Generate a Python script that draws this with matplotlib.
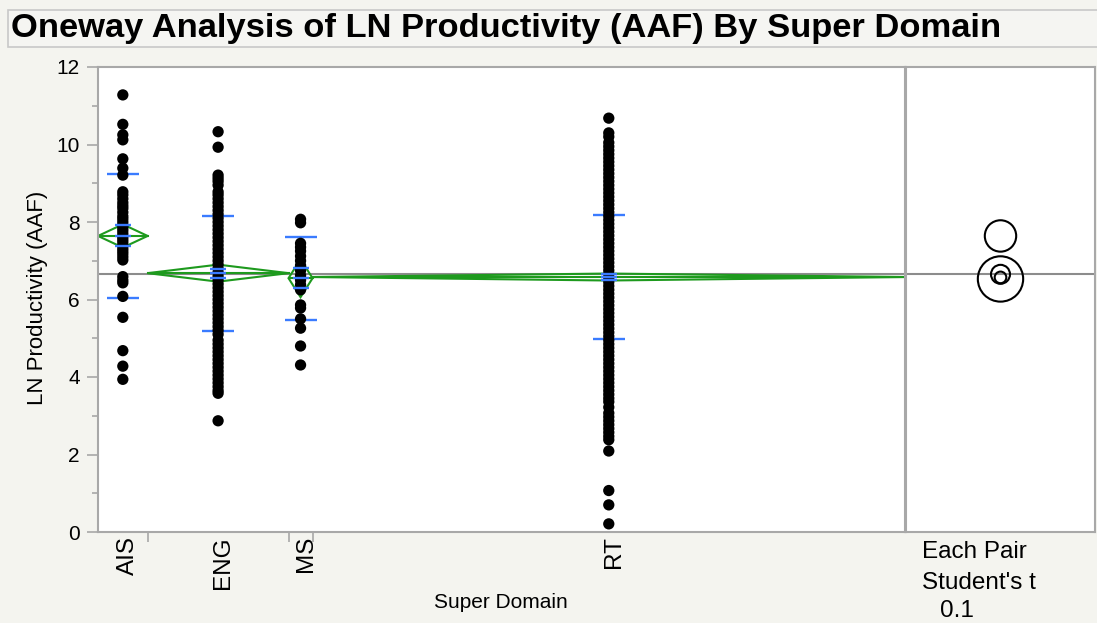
import matplotlib
matplotlib.use('Agg')
import matplotlib.pyplot as plt
import matplotlib.transforms as mtransforms
import numpy as np
from matplotlib.patches import Polygon, Circle, Rectangle

plt.rcParams['font.family'] = ['Liberation Sans', 'DejaVu Sans']

# ---------------- data ----------------
groups = ['AIS', 'ENG', 'MS', 'RT']
group_n = [31, 88, 15, 370]          # estimated group sizes (JMP widths ~ n)

ais_values = [11.28, 10.52, 10.25, 10.12, 9.63, 9.39, 9.21, 8.78, 8.70, 8.60,
              8.50, 8.42, 8.35, 8.25, 8.15, 8.08, 8.00, 7.92, 7.85, 7.78, 7.70,
              7.62, 7.55, 7.48, 7.40, 7.32, 7.25, 7.18, 7.10, 7.02, 6.59, 6.50,
              6.43, 6.08, 5.54, 4.68, 4.28, 3.94]
eng_values = [10.33, 9.93, 9.21, 9.13, 9.05, 8.95, 8.78, 8.70, 8.60, 8.50, 8.40,
              8.30, 8.20, 8.10, 8.00, 7.90, 7.80, 7.70, 7.60, 7.50, 7.40, 7.30,
              7.20, 7.10, 7.00, 6.90, 6.80, 6.70, 6.60, 6.50, 6.40, 6.30, 6.20,
              6.10, 6.00, 5.90, 5.80, 5.70, 5.60, 5.50, 5.40, 5.30, 5.20, 5.10,
              4.95, 4.85, 4.75, 4.65, 4.55, 4.45, 4.35, 4.25, 4.15, 4.05, 3.95,
              3.85, 3.75, 3.65, 3.58, 2.87]
ms_values = [8.07, 7.98, 7.45, 7.35, 7.25, 7.12, 7.00, 6.88, 6.75, 6.62, 6.50,
             6.38, 6.25, 5.86, 5.78, 5.50, 5.26, 4.80, 4.31]
rt_values = [10.68, 10.30, 10.20, 10.05, 9.95, 9.85, 9.75, 9.65, 9.55, 9.45,
             9.35, 9.25, 9.15, 9.05, 8.95, 8.85, 8.75, 8.65, 8.55, 8.45, 8.35,
             8.25, 8.15, 8.05, 7.95, 7.85, 7.75, 7.65, 7.55, 7.45, 7.35, 7.25,
             7.15, 7.05, 6.95, 6.85, 6.75, 6.65, 6.55, 6.45, 6.35, 6.25, 6.15,
             6.05, 5.95, 5.85, 5.75, 5.65, 5.55, 5.45, 5.35, 5.25, 5.15, 5.05,
             4.95, 4.85, 4.75, 4.65, 4.55, 4.45, 4.35, 4.25, 4.15, 4.05, 3.95,
             3.85, 3.75, 3.65, 3.55, 3.45, 3.36, 3.22, 3.07, 2.97, 2.87, 2.77,
             2.67, 2.57, 2.47, 2.38, 2.09, 1.07, 0.70, 0.21]

group_means = [7.64, 6.68, 6.55, 6.58]
ci95_half = [0.30, 0.22, 0.49, 0.09]     # diamond half heights
se_half = [0.27, 0.12, 0.26, 0.08]       # mean error bar marks
sd_values = [1.60, 1.48, 1.07, 1.60]     # std dev lines
circle_centers = [7.64, 6.65, 6.53, 6.57]
circle_radii = [0.405, 0.245, 0.585, 0.15]
grand_mean = 6.65

y_ticks = [0, 2, 4, 6, 8, 10, 12]

# ---------------- styling ----------------
W, H = 1097, 623
BG = '#f4f4ef'
GREEN = '#1e9a1e'
BLUE = '#3a7bff'
GREY = '#a8a8a8'

fig = plt.figure(figsize=(W / 100, H / 100), dpi=100, facecolor=BG)

# title box
fig.patches.append(Rectangle((8 / W, (H - 47) / H), (W - 6) / W, 37 / H,
                             transform=fig.transFigure, facecolor='#f5f5f2',
                             edgecolor='#c8c8c8', lw=1.2, zorder=0))
fig.text(11 / W, (H - 28) / H, 'Oneway Analysis of LN Productivity (AAF) By Super Domain',
         fontsize=24.8, fontweight='bold', va='center', ha='left', color='black')

ax = fig.add_axes([98 / W, (H - 532) / H, 807 / W, 465 / H])
ax2 = fig.add_axes([906 / W, (H - 532) / H, 189 / W, 465 / H])

values = [ais_values, eng_values, ms_values, rt_values]
edges = np.concatenate([[0], np.cumsum(group_n)])
centers = (edges[:-1] + edges[1:]) / 2

ax.axhline(grand_mean, color='#8c8c8c', lw=1.5, zorder=1)
for i, g in enumerate(groups):
    x0, x1, xc = edges[i], edges[i + 1], centers[i]
    m = group_means[i]
    ci = ci95_half[i]
    ax.add_patch(Polygon([(x0, m), (xc, m + ci), (x1, m), (xc, m - ci)], closed=True,
                         fill=False, edgecolor=GREEN, lw=1.5, zorder=2))
    ax.plot([x0, x1], [m, m], color=GREEN, lw=1.5, zorder=2)
    ax.plot([xc, xc], [m - sd_values[i], m + sd_values[i]], ls='none', marker='_',
            markersize=22.5, mew=1.7, color=BLUE, zorder=3)
    ax.scatter(np.full(len(values[i]), xc), values[i], s=66, color='black',
               edgecolors='none', zorder=4)
    ax.plot([xc, xc, xc], [m - se_half[i], m, m + se_half[i]], ls='none', marker='_',
            markersize=11, mew=1.7, color=BLUE, zorder=5)

ax.set_xlim(edges[0], edges[-1])
ax.set_ylim(0, 12)
ax.set_yticks(y_ticks)
ax.set_yticks(np.arange(1, 12, 2), minor=True)
ax.set_xticks(edges[1:-1])
ax.set_xticklabels([])
# category labels, rotated, hanging below the axis
lab_trans = mtransforms.offset_copy(ax.get_xaxis_transform(), fig=fig, x=5, y=-4, units='dots')
for xc, g in zip(centers, groups):
    ax.text(xc, 0, g, transform=lab_trans, rotation=90, fontsize=17.5,
            ha='center', va='top', clip_on=False)
ax.tick_params(axis='x', which='major', length=7, width=1.2, color=GREY)
ax.tick_params(axis='y', which='major', length=8, width=1.2, color=GREY, labelsize=15, pad=5)
ax.tick_params(axis='y', which='minor', length=4, width=1.2, color=GREY)
for s in ax.spines.values():
    s.set_color(GREY)
    s.set_linewidth(1.5)
ax.set_facecolor('white')

# compare circles panel
ax2.set_facecolor('white')
for s in ax2.spines.values():
    s.set_color(GREY)
    s.set_linewidth(1.5)
ax2.set_xticks([])
ax2.set_yticks([])
ax2.set_ylim(0, 12)
xr = 12 * (189 / 465)
ax2.set_xlim(0, xr)
ax2.axhline(grand_mean, color='#8c8c8c', lw=1.5, zorder=1)
for c, r in zip(circle_centers, circle_radii):
    ax2.add_patch(Circle((xr / 2, c), r, fill=False, edgecolor='black', lw=1.5, zorder=3))

fig.text(501 / W, (H - 603) / H, 'Super Domain', fontsize=15, ha='center', va='center')
fig.text(38 / W, (H - 298) / H, 'LN Productivity (AAF)', fontsize=16, rotation=90,
         ha='center', va='center')
fig.text(922 / W, (H - 552) / H, 'Each Pair', fontsize=17.5, ha='left', va='center')
fig.text(922 / W, (H - 583) / H, "Student's t", fontsize=17.5, ha='left', va='center')
fig.text(940 / W, (H - 611) / H, '0.1', fontsize=17.5, ha='left', va='center')

fig.savefig('out.png', dpi=100, facecolor=BG)
